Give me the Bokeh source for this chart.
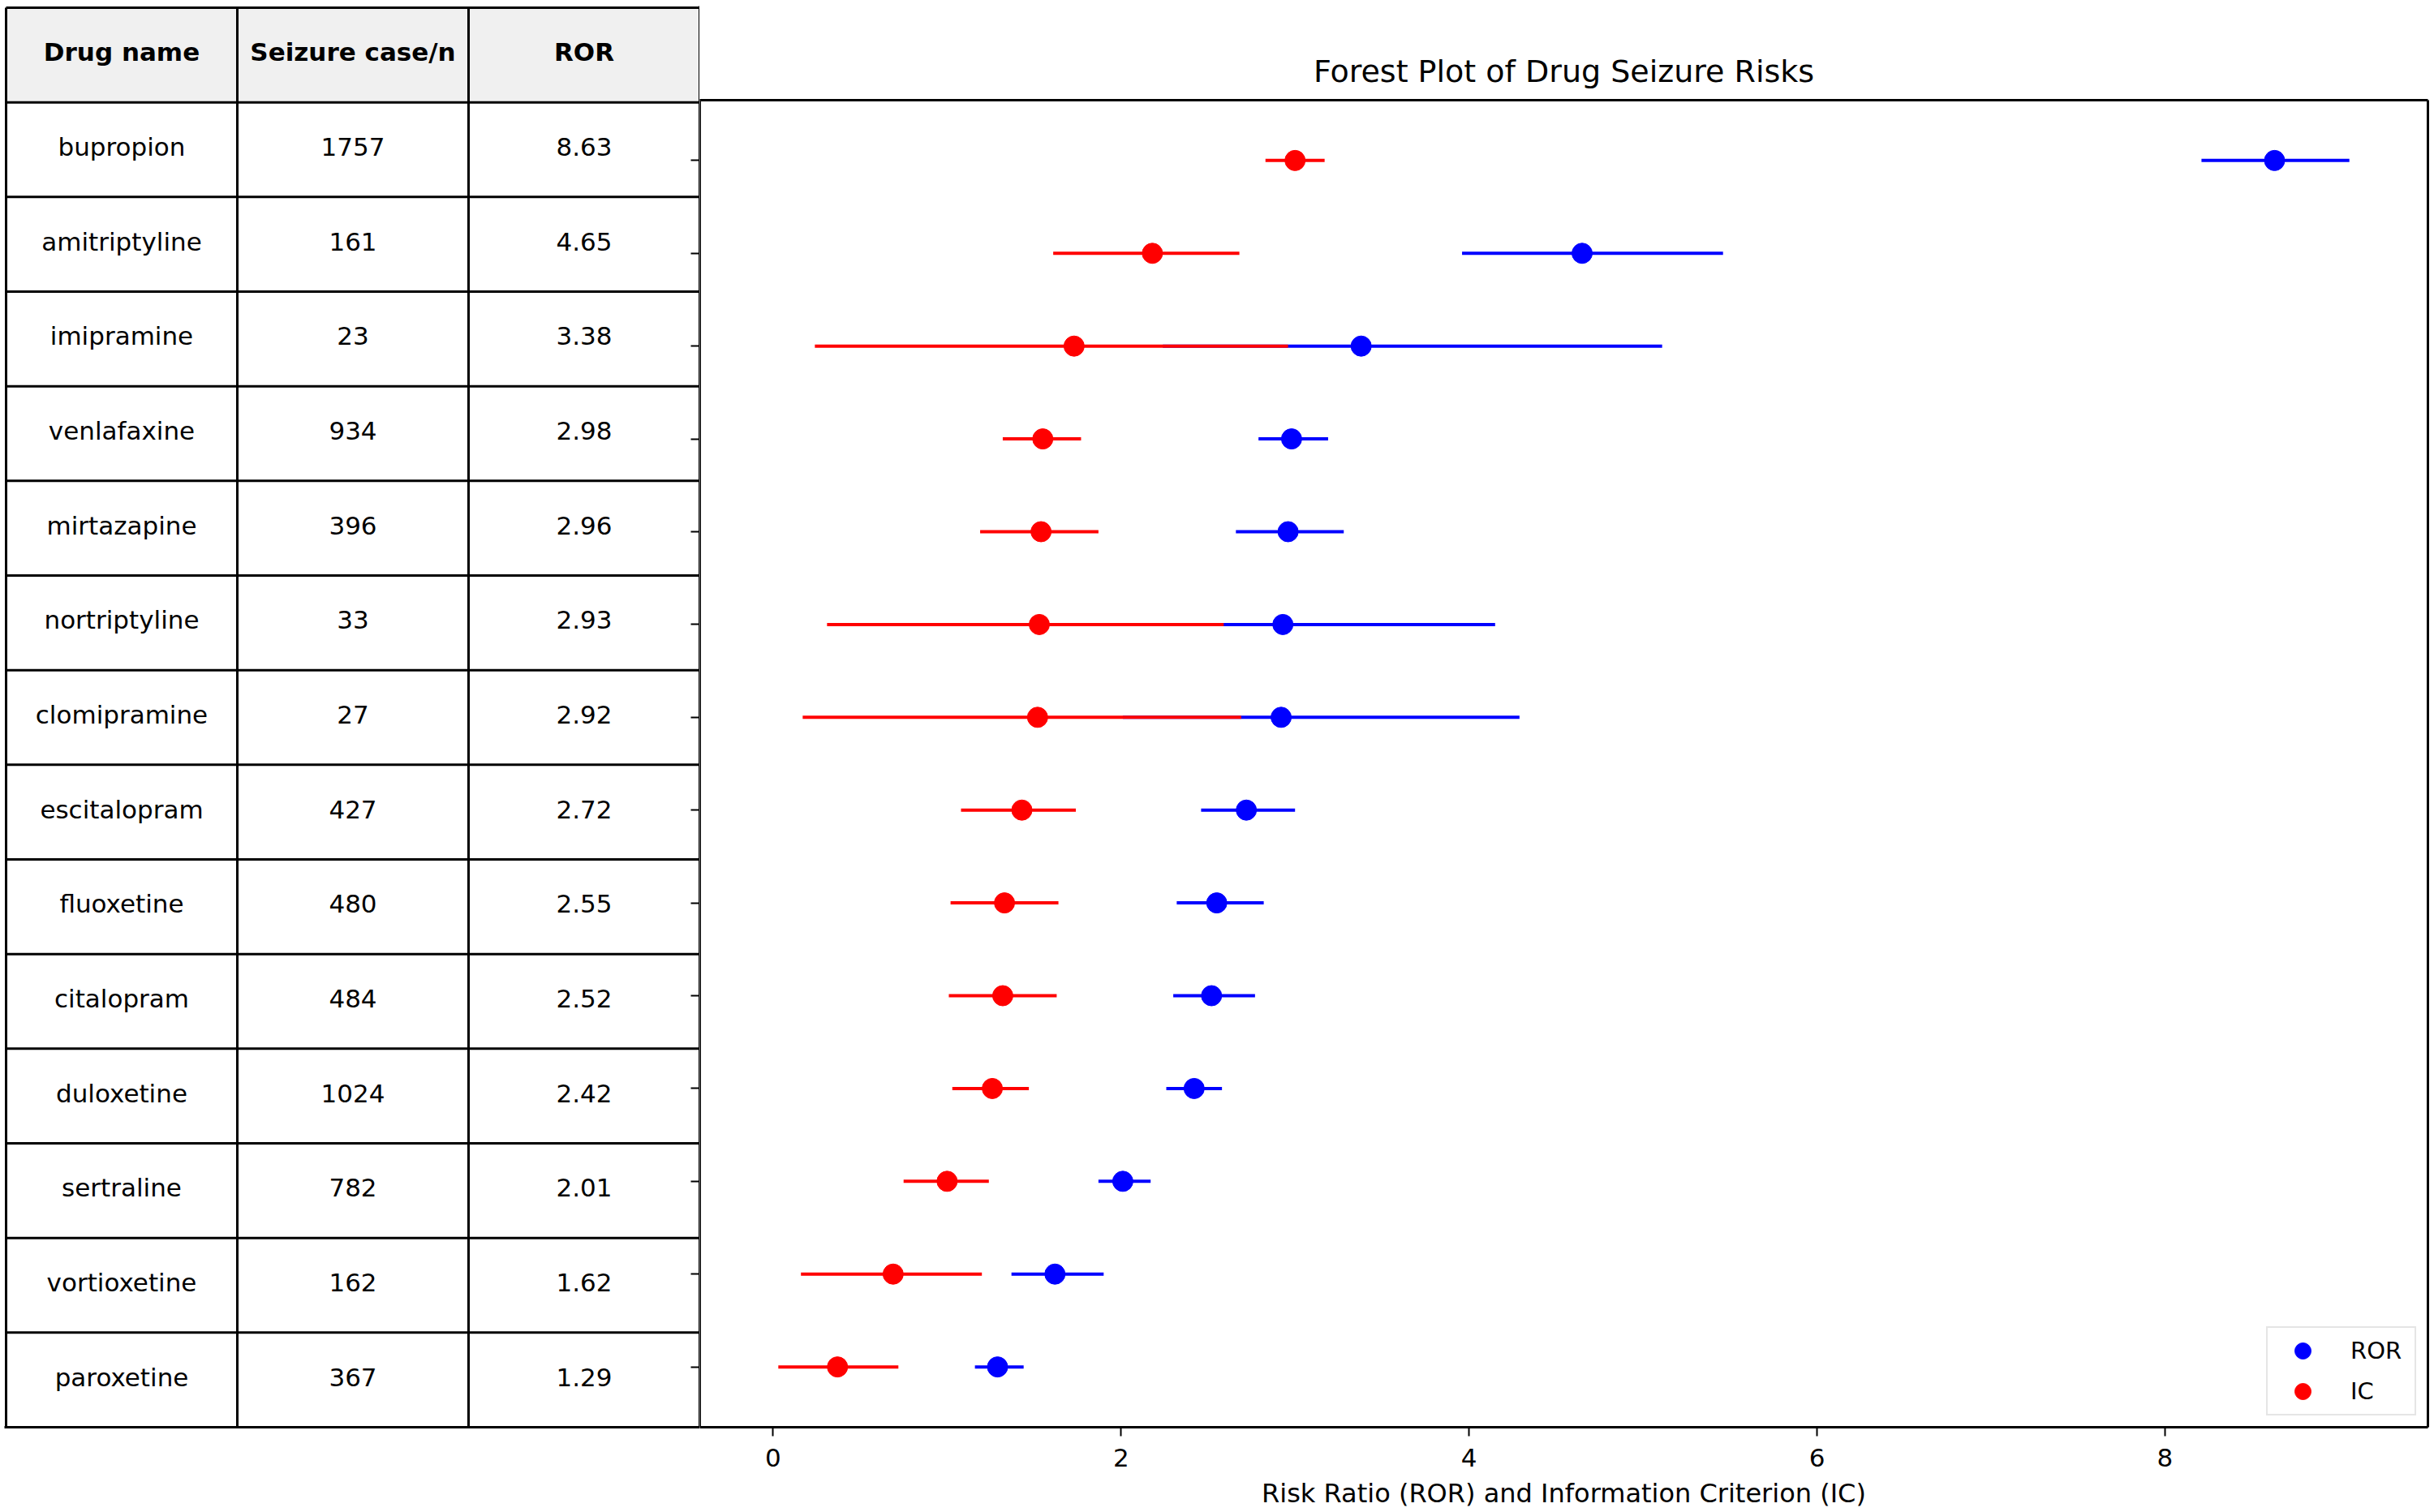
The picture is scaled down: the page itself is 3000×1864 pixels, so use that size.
from bokeh.plotting import figure
from bokeh.models import (Range1d, LinearAxis, FixedTicker, ColumnDataSource, Legend,
                          LegendItem, CustomJSTickFormatter)
from bokeh.layouts import row
from bokeh.embed import file_html
from bokeh.resources import INLINE
from bokeh.core.properties import value

# ---------------- data ----------------
drugs = ["bupropion", "amitriptyline", "imipramine", "venlafaxine", "mirtazapine",
         "nortriptyline", "clomipramine", "escitalopram", "fluoxetine", "citalopram",
         "duloxetine", "sertraline", "vortioxetine", "paroxetine"]
cases = [1757, 161, 23, 934, 396, 33, 27, 427, 480, 484, 1024, 782, 162, 367]
ror = [8.63, 4.65, 3.38, 2.98, 2.96, 2.93, 2.92, 2.72, 2.55, 2.52, 2.42, 2.01, 1.62, 1.29]
ror_lo = [8.21, 3.96, 2.24, 2.79, 2.66, 2.07, 2.01, 2.46, 2.32, 2.30, 2.26, 1.87, 1.37, 1.16]
ror_hi = [9.06, 5.46, 5.11, 3.19, 3.28, 4.15, 4.29, 3.00, 2.82, 2.77, 2.58, 2.17, 1.90, 1.44]
ic = [3.00, 2.18, 1.73, 1.55, 1.54, 1.53, 1.52, 1.43, 1.33, 1.32, 1.26, 1.00, 0.69, 0.37]
ic_lo = [2.83, 1.61, 0.24, 1.32, 1.19, 0.31, 0.17, 1.08, 1.02, 1.01, 1.03, 0.75, 0.16, 0.03]
ic_hi = [3.17, 2.68, 2.96, 1.77, 1.87, 2.59, 2.69, 1.74, 1.64, 1.63, 1.47, 1.24, 1.20, 0.72]
col_headers = ["Drug name", "Seizure case/n", "ROR"]
x_ticks = [0, 2, 4, 6, 8]
series_names = ["ROR", "IC"]
title_text = "Forest Plot of Drug Seizure Risks"
x_label = "Risk Ratio (ROR) and Information Criterion (IC)"

# ---------------- layout constants (px) ----------------
FONT = "DejaVu Sans"
H = 1862
TABLE_W = 862
PLOT_W = 2136
TOP = 7            # table top / frame top
BOX_TOP = 123      # top edge of the forest-plot box
BOTTOM = H - 1759  # space below frames
LEFT = 7
RIGHT = 6
TITLE_Y = 87
TEXT_LIFT = 0.03   # table text sits slightly above the cell middle
n = len(drugs)
ncol = len(col_headers)

# plot ranges (matplotlib-like 5% margins)
lo = min(ic_lo + ror_lo)
hi = max(ror_hi + ic_hi)
xpad = 0.05 * (hi - lo)
ypad = 0.05 * (n - 1)
x_range = Range1d(lo - xpad, hi + xpad)
frame_h = H - TOP - BOTTOM
ppu = (H - BOTTOM - BOX_TOP) / (n - 1 + 2 * ypad)
y_top = -ypad - (BOX_TOP - TOP) / ppu
y_range = Range1d(start=n - 1 + ypad, end=y_top)

# ---------------- forest plot ----------------
p = figure(width=PLOT_W, height=H, x_range=x_range, y_range=y_range,
           output_backend="svg", toolbar_location=None, y_axis_location=None,
           min_border_top=TOP, min_border_bottom=BOTTOM,
           min_border_left=0, min_border_right=RIGHT)
p.grid.visible = False
p.outline_line_color = None
p.background_fill_color = "white"
p.border_fill_color = "white"

xa = p.xaxis[0]
xa.ticker = FixedTicker(ticks=x_ticks)
xa.axis_line_color = "black"
xa.axis_line_width = 3
xa.major_tick_out = 11
xa.major_tick_in = 0
xa.minor_tick_out = 0
xa.minor_tick_in = 0
xa.major_tick_line_width = 2
xa.major_tick_line_color = "black"
xa.major_label_text_font = FONT
xa.major_label_text_font_size = "31px"
xa.major_label_text_color = "black"
xa.major_label_standoff = 15
xa.axis_label = x_label
xa.axis_label_text_font = FONT
xa.axis_label_text_font_size = "32px"
xa.axis_label_text_font_style = "normal"
xa.axis_label_text_color = "black"
xa.axis_label_standoff = 11

# right edge of the plot box
ra = LinearAxis(ticker=FixedTicker(ticks=[]), bounds=(-ypad, n - 1 + ypad),
                major_tick_out=0, major_tick_in=0, minor_tick_out=0, minor_tick_in=0,
                major_label_standoff=0, axis_line_width=3, axis_line_color="black")
p.add_layout(ra, "right")

# plot box
p.quad(left=[x_range.start], right=[x_range.end], top=[-ypad], bottom=[n - 1 + ypad],
       fill_color=None, line_color="black", line_width=3)

# title
p.text(x=[(x_range.start + x_range.end) / 2], y=[-ypad - (BOX_TOP - TITLE_Y) / ppu],
       text=[title_text], text_align="center", text_baseline="middle",
       text_font=value(FONT), text_font_size=value("38px"), text_color="black")

src = ColumnDataSource(dict(y=list(range(n)), ror=ror, ror_lo=ror_lo, ror_hi=ror_hi,
                            ic=ic, ic_lo=ic_lo, ic_hi=ic_hi))
p.segment(x0="ror_lo", x1="ror_hi", y0="y", y1="y", source=src,
          line_color="blue", line_width=4)
r_ror = p.scatter(x="ror", y="y", source=src, size=25, fill_color="blue", line_color="blue")
p.segment(x0="ic_lo", x1="ic_hi", y0="y", y1="y", source=src,
          line_color="red", line_width=4)
r_ic = p.scatter(x="ic", y="y", source=src, size=25, fill_color="red", line_color="red")

legend = Legend(items=[LegendItem(label=series_names[0], renderers=[r_ror]),
                       LegendItem(label=series_names[1], renderers=[r_ic])],
                location="bottom_right", glyph_width=80, glyph_height=50,
                label_height=50, label_width=76, spacing=0, padding=3,
                label_standoff=19, margin=14,
                border_line_color="#cccccc", border_line_width=2,
                background_fill_color="white", background_fill_alpha=0.8,
                label_text_font=FONT, label_text_font_size="29px",
                label_text_color="black")
p.add_layout(legend)

# ---------------- table ----------------
edge = 2.0 / ((TABLE_W - LEFT) / ncol)      # keep outer lines fully visible
t = figure(width=TABLE_W, height=H, x_range=Range1d(-edge, ncol),
           y_range=y_range,
           output_backend="svg", toolbar_location=None,
           x_axis_location=None, y_axis_location=None,
           min_border_left=LEFT - 2, min_border_top=TOP,
           min_border_right=0, min_border_bottom=BOTTOM)
row_edge = 2.0 / (frame_h / (n + 1))
t.extra_y_ranges = {"tbl": Range1d(start=n + 1, end=-row_edge)}
t.grid.visible = False
t.outline_line_color = None
t.background_fill_color = "white"
t.border_fill_color = "white"

# header background
t.quad(left=[0], right=[ncol], top=[0], bottom=[1], y_range_name="tbl",
       fill_color="#f0f0f0", line_color=None)

# header text
t.text(x=[c + 0.5 for c in range(ncol)], y=[0.5 - TEXT_LIFT] * ncol, text=col_headers,
       y_range_name="tbl", text_align="center", text_baseline="middle",
       text_font=value(FONT), text_font_size=value("31px"),
       text_font_style="bold", text_color="black")

# body text
cell_x, cell_y, cell_t = [], [], []
for i in range(n):
    vals = [drugs[i], str(cases[i]), f"{ror[i]:.2f}"]
    for c in range(ncol):
        cell_x.append(c + 0.5)
        cell_y.append(i + 1.5 - TEXT_LIFT)
        cell_t.append(vals[c])
t.text(x=cell_x, y=cell_y, text=cell_t, y_range_name="tbl",
       text_align="center", text_baseline="middle",
       text_font=value(FONT), text_font_size=value("31px"), text_color="black")

# grid lines
hy = list(range(n + 2))
t.segment(x0=[0] * len(hy), x1=[ncol] * len(hy), y0=hy, y1=hy, y_range_name="tbl",
          line_color="black", line_width=3)
vx = list(range(ncol + 1))
t.segment(x0=vx, x1=vx, y0=[0] * len(vx), y1=[n + 1] * len(vx), y_range_name="tbl",
          line_color="black", line_width=3)

# bottom edge of the table (outer half)
tb = LinearAxis(ticker=FixedTicker(ticks=[]), major_tick_out=0, major_tick_in=0,
                minor_tick_out=0, minor_tick_in=0, major_label_standoff=0,
                axis_line_width=3, axis_line_color="black")
t.add_layout(tb, "below")

# row ticks of the forest plot, at the shared edge
tick_axis = LinearAxis(ticker=FixedTicker(ticks=list(range(n))),
                       formatter=CustomJSTickFormatter(code="return ''"),
                       major_tick_in=11, major_tick_out=0,
                       minor_tick_in=0, minor_tick_out=0,
                       major_label_standoff=0,
                       major_tick_line_width=2, major_tick_line_color="black",
                       axis_line_width=3, axis_line_color="black")
t.add_layout(tick_axis, "right")

layout = row(t, p)
open("out.html", "w").write(file_html(layout, INLINE))
